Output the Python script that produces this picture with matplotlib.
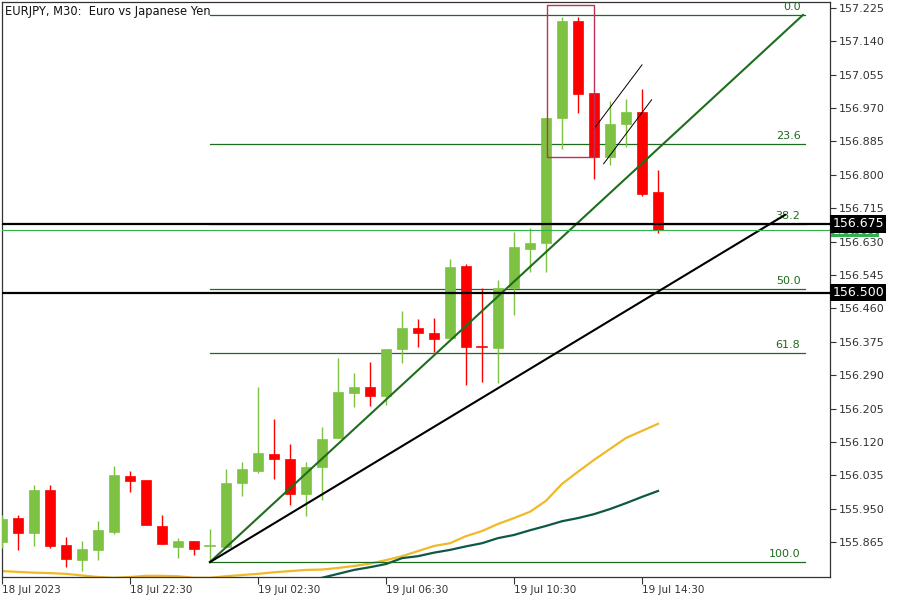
import numpy as np
import matplotlib
matplotlib.use("Agg")
import matplotlib.pyplot as plt
from matplotlib.patches import Rectangle

# EURJPY M30 candles (open, high, low, close)
opens = [155.865, 155.926, 155.888, 155.997, 155.857, 155.819, 155.845, 155.890, 156.033, 156.023,
         155.906, 155.852, 155.867, 155.855, 155.852, 156.015, 156.046, 156.089, 156.076, 155.987,
         156.056, 156.130, 156.244, 156.260, 156.237, 156.356, 156.410, 156.397, 156.384, 156.568,
         156.361, 156.359, 156.512, 156.611, 156.626, 156.945, 157.192, 157.008, 156.846, 156.930,
         156.960, 156.756]
highs = [155.934, 155.934, 156.010, 156.010, 155.878, 155.867, 155.918, 156.058, 156.046, 156.023,
         155.934, 155.875, 155.867, 155.898, 156.051, 156.069, 156.260, 156.178, 156.114, 156.069,
         156.158, 156.334, 156.295, 156.323, 156.356, 156.453, 156.433, 156.435, 156.586, 156.573,
         156.512, 156.532, 156.655, 156.665, 156.945, 157.202, 157.202, 157.008, 156.988, 156.993,
         157.019, 156.812]
lows = [155.850, 155.845, 155.855, 155.850, 155.801, 155.791, 155.819, 155.885, 155.992, 155.908,
        155.860, 155.824, 155.832, 155.814, 155.852, 155.982, 156.041, 156.025, 155.959, 155.931,
        155.972, 156.130, 156.209, 156.211, 156.214, 156.321, 156.362, 156.349, 156.384, 156.265,
        156.272, 156.270, 156.443, 156.553, 156.553, 156.866, 156.958, 156.789, 156.825, 156.871,
        156.746, 156.652]
closes = [155.924, 155.888, 155.997, 155.855, 155.822, 155.847, 155.895, 156.036, 156.020, 155.908,
          155.860, 155.867, 155.847, 155.855, 156.015, 156.051, 156.092, 156.076, 155.987, 156.056,
          156.127, 156.247, 156.260, 156.237, 156.356, 156.410, 156.397, 156.382, 156.565, 156.362,
          156.359, 156.512, 156.616, 156.626, 156.945, 157.192, 157.006, 156.846, 156.930, 156.960,
          156.751, 156.660]

# moving averages (yellow = fast, dark green = slow)
ma_fast = [155.791, 155.789, 155.787, 155.786, 155.784, 155.780, 155.776, 155.774, 155.776, 155.779,
           155.779, 155.778, 155.774, 155.774, 155.778, 155.781, 155.784, 155.788, 155.791, 155.794,
           155.795, 155.799, 155.804, 155.810, 155.819, 155.829, 155.842, 155.855, 155.862, 155.880,
           155.893, 155.911, 155.926, 155.942, 155.970, 156.013, 156.044, 156.074, 156.102, 156.130,
           156.148, 156.166]
ma_slow = [np.nan] * 20 + [155.774, 155.784, 155.794, 155.801, 155.809, 155.824, 155.829, 155.838,
                           155.845, 155.854, 155.862, 155.875, 155.883, 155.895, 155.906, 155.918,
                           155.926, 155.936, 155.949, 155.964, 155.980, 155.995]

yticks = [157.225, 157.140, 157.055, 156.970, 156.885, 156.800, 156.715, 156.630, 156.545,
          156.460, 156.375, 156.290, 156.205, 156.120, 156.035, 155.950, 155.865]
xtick_bars = [0, 8, 16, 24, 32, 40]
xtick_labels = ["18 Jul 2023", "18 Jul 22:30", "19 Jul 02:30", "19 Jul 06:30", "19 Jul 10:30", "19 Jul 14:30"]

fib_levels = [0.0, 23.6, 38.2, 50.0, 61.8, 100.0]
fib_high = 157.206
fib_low = 155.814
hlines = [156.675, 156.500]
last_price = 156.660

GREEN = "#7dc242"
RED = "#ff0000"
FIB = "#1d6b1d"

fig = plt.figure(figsize=(9, 6), dpi=100)
ax = fig.add_axes([2 / 900, 23 / 600, 828 / 900, 575 / 600])
ax.set_xlim(0, 51.75)
ax.set_ylim(155.776, 157.240)

# candles
w = 0.68
for i in range(len(opens)):
    o, h, l, c = opens[i], highs[i], lows[i], closes[i]
    col = GREEN if c >= o else RED
    ax.plot([i, i], [l, h], color=col, lw=1, zorder=3, solid_capstyle="butt")
    bot, top = min(o, c), max(o, c)
    if top - bot < 0.002:
        ax.plot([i - w / 2, i + w / 2], [o, o], color=col, lw=1.2, zorder=3)
    else:
        ax.add_patch(Rectangle((i - w / 2, bot), w, top - bot, facecolor=col, edgecolor=col, lw=0.5, zorder=3))

# moving averages
xs = np.arange(len(opens))
ax.plot(xs, ma_fast, color="#f0b927", lw=1.6, zorder=2)
ax.plot(xs, ma_slow, color="#0f5848", lw=1.6, zorder=2)

# fibonacci retracement
fib_x0, fib_x1 = 13, 50.2
for lv in fib_levels:
    p = fib_high - (fib_high - fib_low) * lv / 100
    ax.plot([fib_x0, fib_x1], [p, p], color=FIB, lw=0.9, zorder=2)
    ax.text(fib_x1 - 0.3, p + 0.008, f"{lv:.1f}", color=FIB, fontsize=8, ha="right", va="bottom", zorder=4)

# trend lines
ax.plot([13, 50.06], [155.814, 157.207], color="#1e6e1e", lw=1.5, zorder=4)
ax.plot([13, 48.94], [155.814, 156.698], color="black", lw=1.5, zorder=4)
ax.plot([37.0, 40.0], [156.917, 157.080], color="black", lw=0.7, zorder=4)
ax.plot([37.6, 40.6], [156.828, 156.991], color="black", lw=0.7, zorder=4)

# highlight box around the top
ax.add_patch(Rectangle((34.06, 156.846), 2.94, 157.233 - 156.846, fill=False,
                       edgecolor="#c0305a", lw=1, zorder=5))

# horizontal levels
ax.axhline(last_price, color="#2fb24c", lw=0.8, zorder=4)
for p in hlines:
    ax.axhline(p, color="black", lw=1.6, zorder=4)

# title
ax.text(0.004, 0.995, "EURJPY, M30:  Euro vs Japanese Yen", transform=ax.transAxes,
        fontsize=8.3, ha="left", va="top", color="#111111")

# axes styling
for s in ax.spines.values():
    s.set_color("#333333")
    s.set_linewidth(0.9)
ax.yaxis.tick_right()
ax.set_yticks(yticks)
ax.set_yticklabels([f"{v:.3f}" for v in yticks], fontsize=8, color="#333333")
ax.tick_params(axis="y", direction="out", length=4, width=0.8, colors="#333333", pad=2)
ax.set_xticks(xtick_bars)
ax.set_xticklabels(xtick_labels, fontsize=7.5, color="#333333", ha="left")
ax.tick_params(axis="x", direction="out", length=5, width=0.8, colors="#333333", pad=1)

# price labels on the right (current price label sits mostly under the 156.675 box)
ytr = ax.get_yaxis_transform()
ax.text(1.003, last_price - 0.003, f"{last_price:.3f}", transform=ytr, fontsize=8, color="white",
        ha="left", va="center", clip_on=False,
        bbox=dict(boxstyle="square,pad=0.12", facecolor="#2fb24c", edgecolor="none"))
for p in hlines:
    ax.text(1.003, p, f"{p:.3f}", transform=ytr, fontsize=9, color="white", ha="left", va="center",
            clip_on=False, bbox=dict(boxstyle="square,pad=0.18", facecolor="black", edgecolor="none"))

fig.savefig("out.png", dpi=100, facecolor="white")
